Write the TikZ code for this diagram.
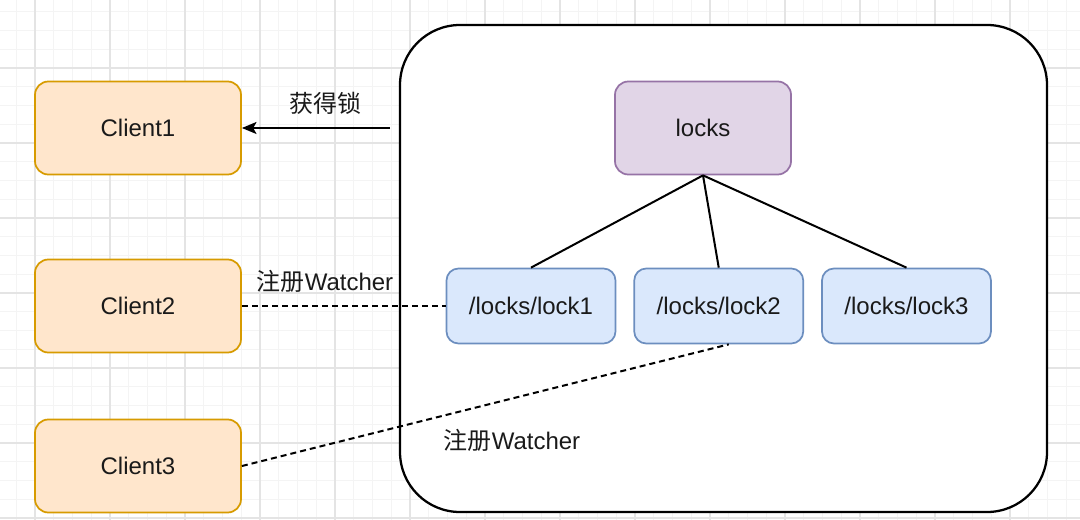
\documentclass[tikz,border=0pt]{standalone}
\usepackage{fontspec}
\setmainfont{Liberation Sans}
\newfontfamily\cjk{Noto Sans CJK SC}
\usepackage{tikz}
\usetikzlibrary{positioning}
\usetikzlibrary{arrows.meta}
\usepackage{xcolor}
\definecolor{clientfill}{HTML}{FFE6CC}
\definecolor{clientdraw}{HTML}{D79B00}
\definecolor{rootfill}{HTML}{E1D5E7}
\definecolor{rootdraw}{HTML}{9673A6}
\definecolor{lockfill}{HTML}{DAE8FC}
\definecolor{lockdraw}{HTML}{6C8EBF}
\definecolor{gridminor}{HTML}{F4F4F4}
\definecolor{gridmajor}{HTML}{E4E4E4}
\definecolor{inktext}{HTML}{1A1A1A}

\begin{document}
\begin{tikzpicture}[
    x=0.75pt, y=-0.75pt,
    every node/.style={font=\fontsize{18}{21}\selectfont, text=inktext},
    clientnode/.style={draw=clientdraw, fill=clientfill, line width=1.3pt, rounded corners=10pt, minimum width=154.5pt, minimum height=69.75pt},
    rootnode/.style={draw=rootdraw, fill=rootfill, line width=1.3pt, rounded corners=10pt, minimum width=132pt, minimum height=69.75pt},
    locknode/.style={draw=lockdraw, fill=lockfill, line width=1.3pt, rounded corners=9pt, minimum width=126.75pt, minimum height=56.25pt},
    tree/.style={line width=1.5pt},
    watch/.style={line width=1.5pt, dash pattern=on 4.5pt off 3pt},
    label/.style={inner sep=1pt}
]
\useasboundingbox (0,0) rectangle (1080,520);
\fill[white] (0,0) rectangle (1080,520);
% Background grid
\begin{scope}
\clip (0,0) rectangle (1080,520);
\foreach \gx in {-2.5,16.25,...,1080}
    \draw[gridminor, line width=0.6pt] (\gx,0) -- (\gx,520);
\foreach \gy in {-7,11.75,...,520}
    \draw[gridminor, line width=0.6pt] (0,\gy) -- (1080,\gy);
\foreach \gx in {35,110,...,1080}
    \draw[gridmajor, line width=0.8pt] (\gx,0) -- (\gx,520);
\foreach \gy in {-7,68,...,520}
    \draw[gridmajor, line width=0.8pt] (0,\gy) -- (1080,\gy);
\end{scope}
% Container
\draw[line width=1.7pt, fill=white, rounded corners=45pt] (400,25) rectangle (1047,512);
% Clients
\node[clientnode] (client1) at (138,128) {Client1};
\node[clientnode] (client2) at (138,306) {Client2};
\node[clientnode] (client3) at (138,466) {Client3};
% Lock tree
\node[rootnode] (locks) at (703,128) {locks};
\node[locknode] (lock1) at (531,306) {/locks/lock1};
\node[locknode, right=12.75pt of lock1] (lock2) {/locks/lock2};
\node[locknode, right=12.75pt of lock2] (lock3) {/locks/lock3};
\draw[tree] (locks.south) -- (lock1.north);
\draw[tree] (locks.south) -- (lock2.north);
\draw[tree] (locks.south) -- (lock3.north);
% Connectors
\coordinate (grant) at (390,128);
\draw[line width=1.5pt, -{Stealth[length=11pt, width=9pt, inset=2.5pt]}] (grant) -- (client1.east);
\node[label] (grantlabel) at (325,103) {{\cjk 获得锁}};
\draw[watch] (client2.east) -- (lock1.west);
\node[label] (watch1) at (325,281) {{\cjk 注册}Watcher};
\draw[watch] (client3.east) -- ([xshift=7.5pt]lock2.south);
\node[label] (watch2) at (512,440) {{\cjk 注册}Watcher};
\end{tikzpicture}
\end{document}
